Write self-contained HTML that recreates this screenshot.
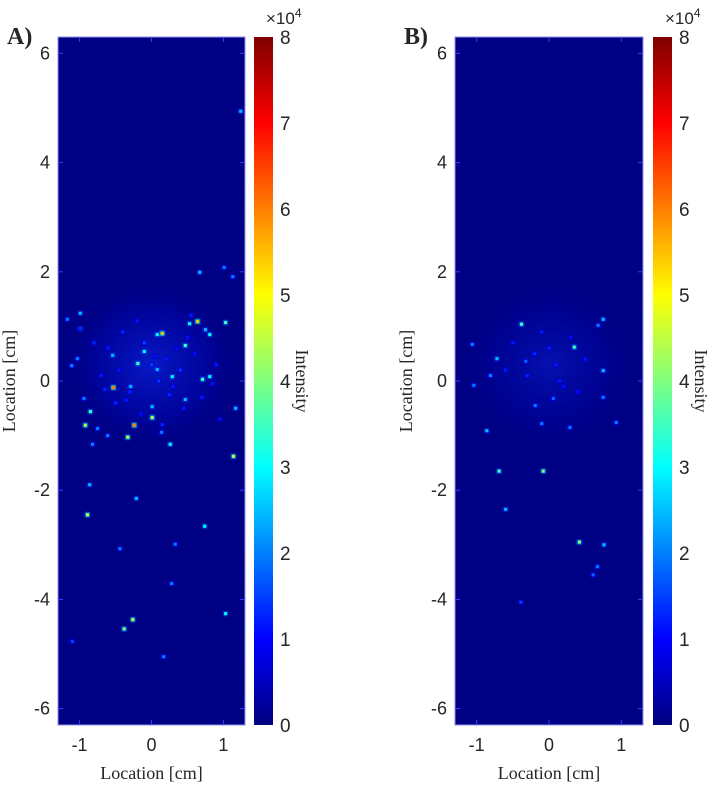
<!DOCTYPE html>
<html><head><meta charset="utf-8"><style>
body{margin:0;background:#fff;width:726px;height:789px;overflow:hidden}
svg{display:block}
.t{font-family:"Liberation Sans",sans-serif;font-size:18px;fill:#262626}
.s{font-family:"Liberation Serif",serif;font-size:18px;fill:#262626}
</style></head><body>
<svg id="chart" width="726" height="789" viewBox="0 0 726 789" xmlns="http://www.w3.org/2000/svg">
<defs>
<linearGradient id="jet" x1="0" y1="1" x2="0" y2="0">
<stop offset="0" stop-color="#00007f"/><stop offset="0.125" stop-color="#0000ff"/><stop offset="0.375" stop-color="#00ffff"/><stop offset="0.625" stop-color="#ffff00"/><stop offset="0.875" stop-color="#ff0000"/><stop offset="1" stop-color="#7f0000"/>
</linearGradient>
<radialGradient id="cloudA"><stop offset="0" stop-color="#1030ff" stop-opacity="0.55"/><stop offset="0.6" stop-color="#0010e0" stop-opacity="0.25"/><stop offset="1" stop-color="#000080" stop-opacity="0"/></radialGradient>
<radialGradient id="cloudB"><stop offset="0" stop-color="#1030ff" stop-opacity="0.35"/><stop offset="0.6" stop-color="#0010e0" stop-opacity="0.15"/><stop offset="1" stop-color="#000080" stop-opacity="0"/></radialGradient>
<filter id="blur"><feGaussianBlur stdDeviation="0.7"/></filter>
</defs>
</svg>
<script>
// ---- data (cm, cm, intensity x1e4) ----
const xTicks = [-1, 0, 1];
const yTicks = [-6, -4, -2, 0, 2, 4, 6];
const cbTicks = [0, 1, 2, 3, 4, 5, 6, 7, 8];
const spotsAx = [0.67,1.03,0.15,0.08,0.47,-0.19,-0.10,-0.53,0.29,0.71,0.81,-0.85,-0.92,-0.24,0.01,-0.33,0.26,1.14,-0.99,-0.99,0.75,0.81,0.53,0.64,0.08,0.01,-0.29,0.47,0.14,-0.75,-0.94,-1.17,-0.54,-1.03,-1.11,1.17,-0.61,-0.82,1.13,1.01,1.24,-0.89,-0.86,-0.21,0.74,0.33,-0.44,0.28,1.03,-0.26,-0.38,0.17,-1.10,
 -0.6,-0.4,-0.1,0.2,0.4,0.6,-0.7,-0.3,0.0,0.3,0.5,0.9,-0.5,-0.2,0.1,0.35,0.7,-0.8,-0.45,0.05,0.25,0.55,-0.15,0.45,-0.65,0.95,-1.0,0.85,-0.35,0.15];
const spotsAy = [1.99,1.07,0.87,0.85,0.65,0.32,0.54,-0.12,0.08,0.03,0.08,-0.56,-0.81,-0.81,-0.67,-1.03,-1.16,-1.38,0.96,1.24,0.94,0.85,1.05,1.09,0.21,-0.47,-0.10,-0.34,-0.94,-0.87,-0.32,1.13,0.47,0.41,0.28,-0.50,-1.00,-1.16,1.91,2.08,4.94,-2.45,-1.90,-2.15,-2.66,-2.99,-3.07,-3.71,-4.26,-4.37,-4.54,-5.05,-4.77,
 0.6,0.9,0.7,0.4,0.2,0.5,0.1,-0.2,0.3,-0.1,0.8,0.3,-0.4,1.1,0.0,0.6,-0.3,0.7,0.2,0.45,-0.25,1.2,-0.6,-0.5,-0.15,-0.7,0.95,-0.05,-0.35,-0.8];
const spotsAv = [2.5,3.5,5.5,3,3.5,3.5,3,6,3,3.5,3,3.5,4.5,6,4.5,4.5,3,4.5,2.5,2.5,2.5,3,3,5.5,2.5,2.5,2.5,2.5,2,2,2,2,2.5,2,2,2.5,2,2,2,2,2.5,4.5,2.5,2.5,3,2,2,2,3,4.5,4,2,1.5,
 1.2,1.3,1.5,1.2,1.4,1.1,1.2,1.3,1.5,1.2,1.1,1.2,1.3,1.2,1.4,1.1,1.2,1.3,1.2,1.1,1.3,1.2,1.1,1.2,1.3,1.1,1.2,1.1,1.2,1.3];
const spotsBx = [-0.38,0.35,0.75,0.68,-0.72,0.75,-1.06,-0.81,-1.04,0.75,-0.19,-0.86,-0.10,0.93,0.29,0.06,-0.32,-0.69,-0.08,-0.60,0.42,0.76,0.67,0.61,-0.39,
 -0.5,-0.2,0.1,0.3,0.5,-0.3,0.0,0.2,-0.6,0.4,-0.1,0.15];
const spotsBy = [1.04,0.62,1.13,1.02,0.41,0.19,0.67,0.10,-0.08,-0.30,-0.45,-0.91,-0.78,-0.76,-0.85,-0.32,0.36,-1.65,-1.65,-2.35,-2.95,-3.0,-3.4,-3.55,-4.05,
 0.7,0.5,0.3,0.8,0.4,0.1,0.6,-0.1,0.2,-0.2,0.9,0.0];
const spotsBv = [3.5,3.5,2.5,2,2.5,2.5,2,2,2,2,2,2.5,2,2,2,1.8,1.8,3.5,4,2.5,4,2.5,2,1.8,1.5,
 1.2,1.3,1.2,1.1,1.2,1.3,1.2,1.1,1.2,1.1,1.2,1.2];
// ---- layout ----
const NS='http://www.w3.org/2000/svg';
const svg=document.getElementById('chart');
function mk(tag,attrs,parent){const e=document.createElementNS(NS,tag);for(const k in attrs)e.setAttribute(k,attrs[k]);(parent||svg).appendChild(e);return e;}
function jet(t){t=Math.max(0,Math.min(1,t));
 const r=Math.max(0,Math.min(1,1.5-Math.abs(4*t-3))),g=Math.max(0,Math.min(1,1.5-Math.abs(4*t-2))),b=Math.max(0,Math.min(1,1.5-Math.abs(4*t-1)));
 return `rgb(${Math.round(r*255)},${Math.round(g*255)},${Math.round(b*255)})`;}
const Y0=37,Y1=725,yMin=-6.3,yMax=6.3,xMin=-1.3,xMax=1.3,vMax=8;
function panel(id,left,right,cbL,letter,sx,sy,sv,cloud){
 const g=mk('g',{});
 
 
 const X=v=>left+(v-xMin)/(xMax-xMin)*(right-left);
 const Y=v=>Y0+(yMax-v)/(yMax-yMin)*(Y1-Y0);
 const bg=mk('rect',{x:left,y:Y0,width:right-left,height:Y1-Y0,fill:'#000084'},g);
 
 
 const cl=mk('ellipse',{cx:X(0),cy:Y(0.3),rx:(right-left)*0.5,ry:90,fill:`url(#${cloud})`},g);
 
 
 for(let i=0;i<sx.length;i++){
  const c=jet(sv[i]/vMax),px=X(sx[i]),py=Y(sy[i]);
  const h=mk('rect',{x:px-2.5,y:py-2.5,width:5,height:5,fill:jet(sv[i]/vMax*0.55),opacity:0.8,filter:'url(#blur)'},g);
  
  
  const r=mk('rect',{x:px-1.5,y:py-1.5,width:3,height:3,fill:c},g);
  
  
 }
 const bd=mk('rect',{x:left,y:Y0,width:right-left,height:Y1-Y0,fill:'none',stroke:'#8f8fe8','stroke-width':1},g);
 
 
 xTicks.forEach(v=>{
  mk('line',{x1:X(v),x2:X(v),y1:Y1,y2:Y1-5,stroke:'#3a3aff'},g);
  mk('line',{x1:X(v),x2:X(v),y1:Y0,y2:Y0+5,stroke:'#3a3aff'},g);
  const t=mk('text',{x:X(v),y:Y1+26,'text-anchor':'middle',class:'t'},g);t.textContent=v===0?'0':(v<0?'-'+Math.abs(v):v);
  
  
 });
 yTicks.forEach(v=>{
  mk('line',{x1:left,x2:left+5,y1:Y(v),y2:Y(v),stroke:'#3a3aff'},g);
  mk('line',{x1:right,x2:right-5,y1:Y(v),y2:Y(v),stroke:'#3a3aff'},g);
  const t=mk('text',{x:left-8,y:Y(v)+6,'text-anchor':'end',class:'t'},g);t.textContent=v<0?'-'+Math.abs(v):v;
  
  
 });
 const xt=mk('text',{x:(left+right)/2,y:Y1+54,'text-anchor':'middle',class:'s'},g);xt.textContent='Location [cm]';
 
 
 const yx=left-43,yy=(Y0+Y1)/2;
 const yt=mk('text',{x:yx,y:yy,'text-anchor':'middle',class:'s',transform:`rotate(-90 ${yx} ${yy})`},g);yt.textContent='Location [cm]';
 
 
 const lt=mk('text',{x:left-51,y:44,class:'s',style:'font-size:24px;font-weight:bold'},g);lt.textContent=letter;
 
 
 // colorbar
 const cb=mk('rect',{x:cbL,y:Y0,width:19,height:Y1-Y0,fill:'url(#jet)'},g);
 
 
 const CY=v=>Y1-v/vMax*(Y1-Y0);
 cbTicks.forEach(v=>{
  const t=mk('text',{x:cbL+26,y:CY(v)+7,class:'t',style:'font-size:19px'},g);t.textContent=v;
  
  
 });
 const ex=mk('text',{x:cbL+12,y:24,class:'t',style:'font-size:17px'},g);
 ex.innerHTML='×10<tspan dy="-7" style="font-size:12px">4</tspan>';
 
 
 const ix=cbL+42;
 const it=mk('text',{x:ix,y:yy,'text-anchor':'middle',class:'s',transform:`rotate(90 ${ix} ${yy})`},g);it.textContent='Intensity';
 
 
}
panel('a',58,245,254,'A)',spotsAx,spotsAy,spotsAv,'cloudA');
panel('b',455,643,653,'B)',spotsBx,spotsBy,spotsBv,'cloudB');
</script>
</body></html>
